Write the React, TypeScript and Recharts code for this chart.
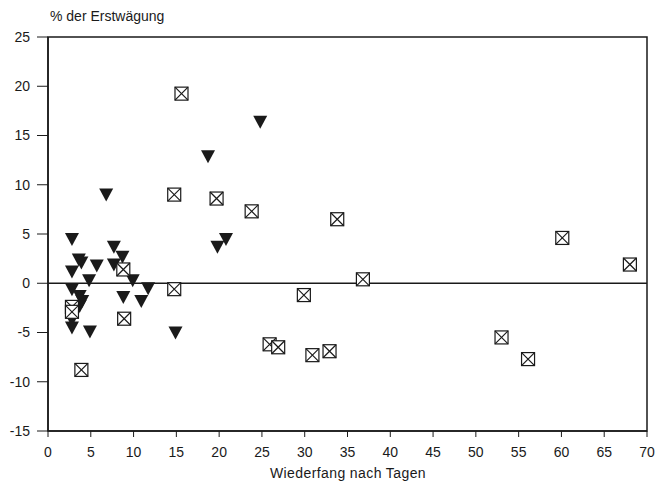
import {
  ReferenceArea,
  ReferenceLine,
  Scatter,
  ScatterChart,
  XAxis,
  YAxis,
} from "recharts";

// Wiederfang nach Tagen / % der Erstwägung
const triangleDays = [
  24.8, 18.7, 6.8, 20.8, 19.8, 2.8, 7.7, 8.7, 3.6, 3.9, 5.7, 7.7, 2.8, 4.8,
  9.9, 2.8, 11.7, 3.7, 8.8, 4.0, 10.9, 3.7, 2.8, 2.8, 4.9, 14.9,
];
const triangleValues = [
  16.4, 12.9, 9.0, 4.5, 3.7, 4.5, 3.7, 2.7, 2.4, 2.1, 1.8, 1.9, 1.2, 0.3, 0.3,
  -0.6, -0.5, -1.3, -1.4, -1.8, -1.8, -2.3, -3.7, -4.5, -4.9, -5.0,
];

const squareDays = [
  15.6, 14.75, 19.7, 23.8, 33.8, 8.8, 14.75, 29.9, 36.8, 2.8, 2.8, 8.9, 3.9,
  25.9, 26.9, 30.9, 32.9, 53.0, 56.1, 60.1, 68.0,
];
const squareValues = [
  19.25, 9.0, 8.6, 7.3, 6.5, 1.4, -0.6, -1.2, 0.4, -2.4, -2.9, -3.6, -8.8,
  -6.2, -6.5, -7.3, -6.9, -5.5, -7.7, 4.6, 1.9,
];

const xTicks = [0, 5, 10, 15, 20, 25, 30, 35, 40, 45, 50, 55, 60, 65, 70];
const yTicks = [-15, -10, -5, 0, 5, 10, 15, 20, 25];

const triangles = triangleDays.map((x, i) => ({ x, y: triangleValues[i] }));
const squares = squareDays.map((x, i) => ({ x, y: squareValues[i] }));

const INK = "#1a1a1a";
const FONT = "'Liberation Sans', Arial, sans-serif";

function DownTriangle(props: any) {
  const { cx, cy } = props;
  if (cx == null || cy == null) return null;
  return (
    <polygon
      points={`${cx - 7},${cy - 6} ${cx + 7},${cy - 6} ${cx},${cy + 7}`}
      fill={INK}
    />
  );
}

function CrossBox(props: any) {
  const { cx, cy } = props;
  if (cx == null || cy == null) return null;
  const h = 6.5;
  return (
    <g stroke={INK} strokeWidth={1.2} fill="#fff">
      <rect x={cx - h} y={cy - h} width={h * 2} height={h * 2} />
      <line x1={cx - h} y1={cy - h} x2={cx + h} y2={cy + h} />
      <line x1={cx + h} y1={cy - h} x2={cx - h} y2={cy + h} />
    </g>
  );
}

const tickStyle = { fontSize: 14, fill: INK, fontFamily: FONT };

export default function App() {
  return (
    <div style={{ position: "absolute", left: 0, top: 0, background: "#fff" }}>
      <ScatterChart
        width={655}
        height={483}
        margin={{ top: 37, right: 8, bottom: 0, left: 0 }}
      >
        <XAxis
          type="number"
          dataKey="x"
          domain={[0, 70]}
          ticks={xTicks}
          interval={0}
          height={52}
          tick={tickStyle}
          tickSize={6}
          tickMargin={10}
          axisLine={{ stroke: INK, strokeWidth: 1.5 }}
          tickLine={{ stroke: INK }}
          allowDataOverflow
        />
        <YAxis
          type="number"
          dataKey="y"
          domain={[-15, 25]}
          ticks={yTicks}
          interval={0}
          width={48}
          tick={tickStyle}
          tickSize={11}
          tickMargin={7}
          axisLine={{ stroke: INK, strokeWidth: 1.5 }}
          tickLine={{ stroke: INK }}
          allowDataOverflow
        />
        <ReferenceArea
          x1={0}
          x2={70}
          y1={-15}
          y2={25}
          fill="none"
          stroke={INK}
          strokeWidth={1.5}
          ifOverflow="visible"
        />
        <ReferenceLine y={0} stroke={INK} strokeWidth={1.5} />
        <Scatter
          data={triangles}
          shape={<DownTriangle />}
          isAnimationActive={false}
        />
        <Scatter
          data={squares}
          shape={<CrossBox />}
          isAnimationActive={false}
        />
        <text
          x={50}
          y={21}
          fontSize={14}
          fontFamily={FONT}
          fill={INK}
        >
          % der Erstwägung
        </text>
        <text
          x={348}
          y={478}
          fontSize={14}
          fontFamily={FONT}
          fill={INK}
          textAnchor="middle"
          letterSpacing={0.4}
        >
          Wiederfang nach Tagen
        </text>
      </ScatterChart>
    </div>
  );
}
